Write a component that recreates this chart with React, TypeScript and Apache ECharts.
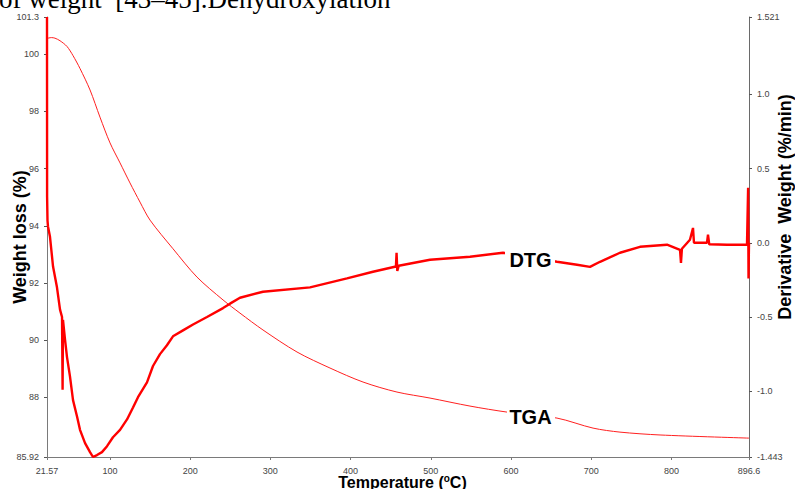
import React, { useEffect, useRef } from 'react';
import * as echarts from 'echarts';

// Axis ticks
const temperatureTicks = [21.57, 100, 200, 300, 400, 500, 600, 700, 800, 896.6];
const temperatureTickLabels = ['21.57', '100', '200', '300', '400', '500', '600', '700', '800', '896.6'];
const weightTicks = [85.92, 88, 90, 92, 94, 96, 98, 100, 101.3];
const weightTickLabels = ['85.92', '88', '90', '92', '94', '96', '98', '100', '101.3'];
const derivTicks = [-1.443, -1.0, -0.5, 0.0, 0.5, 1.0, 1.521];
const derivTickLabels = ['-1.443', '-1.0', '-0.5', '0.0', '0.5', '1.0', '1.521'];

// TGA curve (weight %, left axis)
const tgaTemperature = [21.57, 27.0, 31.5, 37.8, 46.5, 54.0, 62.7, 75.2, 87.6, 100.1, 112.6, 125.0, 137.5, 150.0, 178.6, 208.5, 241.0, 262.1, 290.8, 333.2, 374.3, 415.5, 457.8, 499.0, 548.8, 594.9, 657.3, 702.2, 735.8, 785.7, 896.6];
const tgaWeight = [100.55, 100.58, 100.56, 100.47, 100.27, 99.95, 99.5, 98.75, 97.8, 96.9, 96.2, 95.5, 94.83, 94.2, 93.2, 92.21, 91.41, 90.95, 90.36, 89.59, 89.03, 88.54, 88.19, 87.98, 87.7, 87.49, 87.28, 86.93, 86.79, 86.69, 86.58];

// DTG curve (%/min, right axis)
const dtgTemperature = [21.57, 21.7, 22.2, 22.8, 25.3, 29.1, 34.0, 37.8, 40.3, 41.0, 41.5, 44.0, 46.5, 50.2, 54.0, 59.0, 62.7, 69.0, 75.2, 78.9, 83.9, 90.1, 96.4, 103.8, 112.6, 121.3, 128.8, 135.0, 146.2, 153.7, 162.4, 171.1, 178.6, 191.1, 203.6, 221.0, 241.0, 249.7, 262.1, 290.8, 349.4, 395.5, 427.9, 456.5, 457.3, 458.2, 460.0, 499.0, 548.8, 590.0, 623.6, 657.3, 682.2, 698.4, 710.9, 735.8, 760.7, 794.4, 810.6, 811.8, 813.0, 823.0, 826.8, 828.0, 844.2, 845.5, 847.0, 869.2, 894.1, 895.5, 896.0, 896.6];
const dtgRate = [1.521, 0.31, 0.15, 0.11, 0.04, -0.16, -0.30, -0.45, -0.50, -0.99, -0.52, -0.65, -0.77, -0.90, -1.06, -1.17, -1.26, -1.35, -1.41, -1.443, -1.43, -1.41, -1.37, -1.31, -1.26, -1.19, -1.11, -1.04, -0.94, -0.83, -0.75, -0.69, -0.63, -0.59, -0.55, -0.50, -0.44, -0.41, -0.37, -0.33, -0.30, -0.24, -0.195, -0.16, -0.067, -0.19, -0.155, -0.114, -0.094, -0.067, -0.10, -0.128, -0.148, -0.162, -0.128, -0.067, -0.027, -0.013, -0.047, -0.135, -0.04, 0.02, 0.10, 0.0, 0.0, 0.054, -0.01, -0.013, -0.013, 0.37, -0.24, 0.0];

const SANS = '"Liberation Sans", Arial, sans-serif';
const SERIF = '"Liberation Serif", "Times New Roman", serif';

function pickLabel(ticks: number[], labels: string[]) {
  return (v: number) => {
    const i = ticks.findIndex((t) => Math.abs(t - v) < 1e-6);
    return i >= 0 ? labels[i] : String(v);
  };
}

export default function App() {
  const ref = useRef<HTMLDivElement>(null);

  useEffect(() => {
    const chart = echarts.init(ref.current!, null, { renderer: 'svg' });
    const tga = tgaTemperature.map((t, i) => [t, tgaWeight[i]]);
    const dtg = dtgTemperature.map((t, i) => [t, dtgRate[i]]);

    const labelStyle = { fontSize: 9, color: '#444', fontFamily: SANS };

    chart.setOption({
      animation: false,
      backgroundColor: '#ffffff',
      grid: { left: 47, right: 46, top: 17, bottom: 32, containLabel: false },
      xAxis: {
        type: 'value',
        min: 21.57,
        max: 896.6,
        axisLine: { onZero: false, lineStyle: { color: '#7a7a7a', width: 1 } },
        axisTick: { show: true, customValues: temperatureTicks, length: 3, lineStyle: { color: '#7a7a7a' } },
        axisLabel: { ...labelStyle, customValues: temperatureTicks, margin: 9, formatter: pickLabel(temperatureTicks, temperatureTickLabels) },
        splitLine: { show: false },
      },
      yAxis: [
        {
          type: 'value',
          position: 'left',
          min: 85.92,
          max: 101.3,
          axisLine: { show: true, onZero: false, lineStyle: { color: '#7a7a7a', width: 1 } },
          axisTick: { show: true, customValues: weightTicks, length: 3, lineStyle: { color: '#555' } },
          axisLabel: { ...labelStyle, customValues: weightTicks, margin: 8, formatter: pickLabel(weightTicks, weightTickLabels) },
          splitLine: { show: false },
        },
        {
          type: 'value',
          position: 'right',
          min: -1.443,
          max: 1.521,
          axisLine: { show: true, onZero: false, lineStyle: { color: '#6a6a6a', width: 1 } },
          axisTick: { show: true, customValues: derivTicks, length: 3, lineStyle: { color: '#555' } },
          axisLabel: { ...labelStyle, customValues: derivTicks, margin: 8, formatter: pickLabel(derivTicks, derivTickLabels) },
          splitLine: { show: false },
        },
      ],
      series: [
        {
          name: 'TGA',
          type: 'line',
          yAxisIndex: 0,
          data: tga,
          showSymbol: false,
          smooth: 0.3,
          clip: false,
          lineStyle: { color: '#ff2020', width: 1 },
          z: 2,
        },
        {
          name: 'DTG',
          type: 'line',
          yAxisIndex: 1,
          data: dtg,
          showSymbol: false,
          clip: false,
          lineStyle: { color: '#ff0000', width: 2.4 },
          z: 3,
        },
      ],
      graphic: [
        {
          type: 'text',
          x: -1,
          y: -1,
          style: { text: 'of weight  [43–45].Dehydroxylation', font: '27px ' + SERIF, fill: '#000', align: 'left', verticalAlign: 'middle' },
          z: 50,
        },
        {
          type: 'group',
          z: 60,
          children: [
            { type: 'rect', shape: { x: 505, y: 249, width: 50, height: 22 }, style: { fill: '#fff' }, z: 60 },
            { type: 'text', x: 530.5, y: 260, style: { text: 'DTG', font: 'bold 20px ' + SANS, fill: '#000', align: 'center', verticalAlign: 'middle' }, z: 61 },
          ],
        },
        {
          type: 'group',
          z: 60,
          children: [
            { type: 'rect', shape: { x: 507, y: 405, width: 48, height: 23 }, style: { fill: '#fff' }, z: 60 },
            { type: 'text', x: 530.5, y: 417, style: { text: 'TGA', font: 'bold 20px ' + SANS, fill: '#000', align: 'center', verticalAlign: 'middle' }, z: 61 },
          ],
        },
        {
          type: 'text',
          x: 19.5,
          y: 237,
          rotation: Math.PI / 2,
          style: { text: 'Weight loss (%)', font: 'bold 18px ' + SANS, fill: '#000', align: 'center', verticalAlign: 'middle' },
          z: 50,
        },
        {
          type: 'text',
          x: 785,
          y: 207,
          rotation: Math.PI / 2,
          style: { text: 'Derivative  Weight (%/min)', font: 'bold 18px ' + SANS, fill: '#000', align: 'center', verticalAlign: 'middle' },
          z: 50,
        },
        {
          type: 'text',
          x: 402.5,
          y: 482,
          style: {
            text: '{a|Temperature (}{b|o}{a|C)}',
            align: 'center',
            verticalAlign: 'middle',
            rich: {
              a: { fontFamily: SANS, fontWeight: 'bold', fontSize: 16, color: '#000', lineHeight: 18 },
              b: { fontFamily: SANS, fontWeight: 'bold', fontSize: 10, color: '#000', lineHeight: 18, verticalAlign: 'top', padding: [0, 0, 6, 0] },
            },
          },
          z: 50,
        },
      ],
    });

    return () => chart.dispose();
  }, []);

  return (
    <div
      ref={ref}
      style={{ position: 'fixed', left: 0, top: 0, width: 795, height: 489, background: '#fff' }}
    />
  );
}
